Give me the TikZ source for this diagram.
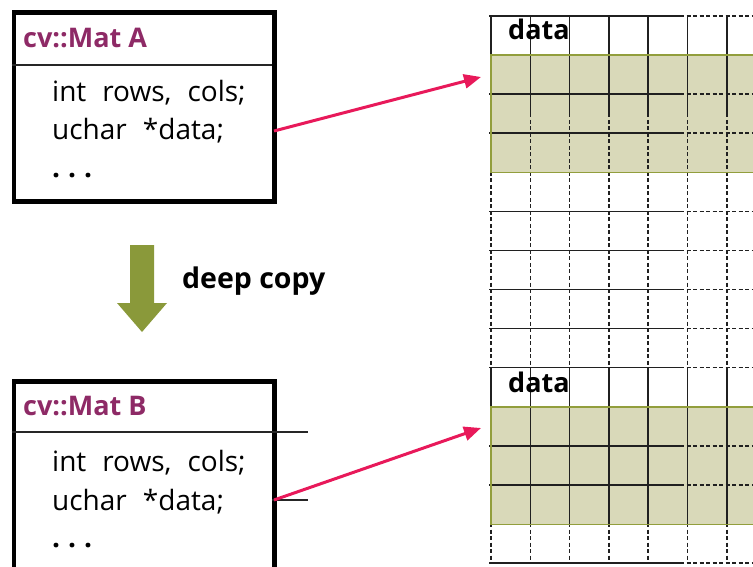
\documentclass[tikz,border=0pt]{standalone}
\usepackage{fontspec}
\setmainfont{Open Sans}
\usetikzlibrary{arrows.meta}

\definecolor{matpurple}{HTML}{8E2A66}
\definecolor{ptrred}{HTML}{E8195A}
\definecolor{bandfill}{HTML}{D9D9B9}
\definecolor{bandedge}{HTML}{929E3C}
\definecolor{copyolive}{HTML}{8A993A}
\definecolor{gridline}{HTML}{202020}

\tikzset{
  matbox/.style={draw=black, line width=4.5pt},
  sepline/.style={draw=black!85, line width=1.3pt},
  mattitle/.style={anchor=base west, inner sep=0pt, text=matpurple,
    font=\fontsize{27}{27}\selectfont\bfseries},
  member/.style={anchor=base west, inner sep=0pt,
    font=\fontsize{28}{28}\selectfont},
  datalabel/.style={anchor=base west, inner sep=0pt,
    font=\fontsize{27}{27}\selectfont\bfseries},
  copylabel/.style={anchor=base west, inner sep=0pt,
    font=\fontsize{28.5}{28.5}\selectfont\bfseries},
  pointer/.style={draw=ptrred, line width=3pt,
    -{Triangle[length=17pt,width=14pt]}},
  gridsolid/.style={draw=gridline, line width=1.5pt},
  griddash/.style={draw=gridline, line width=1.5pt, dash pattern=on 4pt off 2.5pt},
  band/.style={fill=bandfill, draw=none},
  bandline/.style={draw=bandedge, line width=1.6pt},
}
% wide word gap used in the member listings
\newcommand{\wgap}{\hspace{16pt}}

\begin{document}
\begin{tikzpicture}[x=1pt, y=-1pt]
\useasboundingbox (0,0) rectangle (753,567);
\clip (0,0) rectangle (753,567);

% ---- memory grid: 7 columns, 14 rows -------------------------------
\def\gx{491}   \def\gdx{39.3}
\def\gy{16}    \def\gdy{39.07}

% highlighted row bands (3 rows each)
\node[band, anchor=north west, minimum width=275pt, minimum height=117.2pt,
      inner sep=0pt] (bandA) at (\gx, \gy+\gdy) {};
\node[band, anchor=north west, minimum width=275pt, minimum height=117.2pt,
      inner sep=0pt] (bandB) at (\gx, \gy+10*\gdy) {};

% vertical lines: dashed throughout, solid near the two data blocks
\foreach \i in {0,...,6} {
  \draw[griddash] (\gx+\i*\gdx, \gy) -- (\gx+\i*\gdx, \gy+14*\gdy);
  \draw[gridsolid] (\gx+\i*\gdx, \gy) -- (\gx+\i*\gdx, 113);
  \draw[gridsolid] (\gx+\i*\gdx, \gy+9*\gdy) -- (\gx+\i*\gdx, 527);
}
% horizontal lines: solid on the left part, dashed towards the right
\foreach \j in {0,2,3,5,6,7,8,9,11,12,14} {
  \draw[gridsolid] (489, \gy+\j*\gdy) -- (680, \gy+\j*\gdy);
  \draw[griddash] (680, \gy+\j*\gdy) -- (760, \gy+\j*\gdy);
}
% band outlines
\draw[bandline] (bandA.north east) -- (bandA.north west) -- (bandA.south west) -- (bandA.south east);
\draw[bandline] (bandB.north east) -- (bandB.north west) -- (bandB.south west) -- (bandB.south east);

\node[datalabel] (dataA) at (508, 40) {data};
\node[datalabel] (dataB) at (508, 392) {data};

% ---- cv::Mat A -------------------------------------------------------
\node[matbox, anchor=north west, minimum width=260.5pt, minimum height=189pt,
      inner sep=0pt] (boxA) at (11.5, 10.5) {};
\draw[sepline] (11.5, 65) -- (272, 65);
\node[mattitle] (titleA) at (23, 48) {cv::Mat A};
\node[member] (rowsA) at (52, 101.5) {int\wgap rows,\wgap cols;};
\node[member] (dataptrA) at (52, 140) {uchar\wgap *data;};
\node[member] (moreA) at (52, 178) {\textbf{.\hspace{8pt}.\hspace{8pt}.}};

% ---- cv::Mat B -------------------------------------------------------
\node[matbox, anchor=north west, minimum width=260.5pt, minimum height=260pt,
      inner sep=0pt] (boxB) at (11.5, 379) {};
\draw[sepline] (11.5, 432) -- (308, 432);
\draw[sepline] (272, 500) -- (308, 500);
\node[mattitle] (titleB) at (23, 415) {cv::Mat B};
\node[member] (rowsB) at (52, 471) {int\wgap rows,\wgap cols;};
\node[member] (dataptrB) at (52, 510) {uchar\wgap *data;};
\node[member] (moreB) at (52, 547) {\textbf{.\hspace{8pt}.\hspace{8pt}.}};

% ---- data pointers -------------------------------------------------
\coordinate (srcA) at (274, 131);
\coordinate (tipA) at (481, 77);
\coordinate (srcB) at (274, 500);
\coordinate (tipB) at (481, 428);
\draw[pointer] (srcA) -- (tipA);
\draw[pointer] (srcB) -- (tipB);

% ---- deep copy block arrow -----------------------------------------
\fill[copyolive] (130,245) -- (154,245) -- (154,303) -- (167,303) -- (142,332)
  -- (117,303) -- (130,303) -- cycle;
\node[copylabel] (copy) at (182, 288) {deep copy};
\end{tikzpicture}
\end{document}
